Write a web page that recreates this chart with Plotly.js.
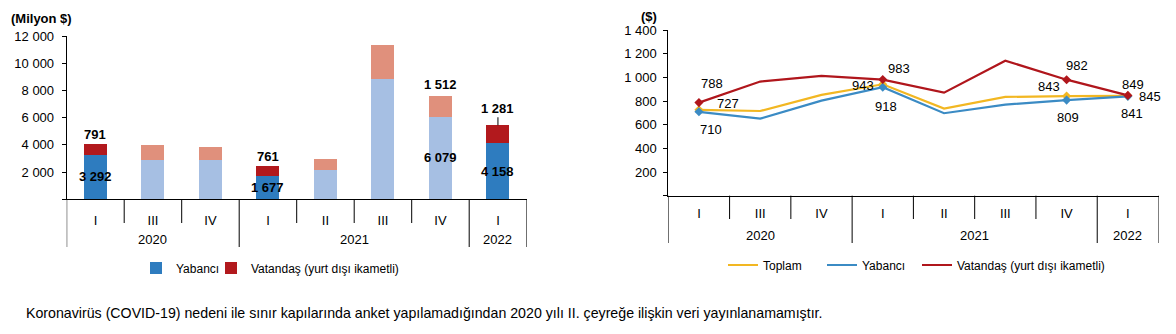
<!DOCTYPE html>
<html>
<head>
<meta charset="utf-8">
<script src="https://cdn.plot.ly/plotly-3.0.1.min.js"></script>
<style>
html,body{margin:0;padding:0;background:#fff;}
#chart{width:1176px;height:334px;}
</style>
</head>
<body>
<div id="chart"></div>
<script>
// ---------- DATA ----------
const years    = ['2020','2020','2020','2021','2021','2021','2021','2022'];
const quarters = ['I','III','IV','I','II','III','IV','I'];

// Left chart: turizm geliri (Milyon $)
const yabanciGelir  = [3292, 2890, 2890, 1677, 2157, 8857, 6079, 4158];
const vatandasGelir = [791, 1110, 960, 761, 810, 2500, 1512, 1281];
const gelirLabeled  = [true, false, false, true, false, false, true, true];
const gelirHighlight = [true, false, false, true, false, false, false, true];

// Right chart: kişi başı ortalama harcama ($)
const toplamHarcama   = [727, 717, 853, 943, 737, 836, 843, 845];
const yabanciHarcama  = [710, 652, 805, 918, 698, 771, 809, 841];
const vatandasHarcama = [788, 966, 1014, 983, 872, 1143, 982, 849];
const harcamaLabeledIdx = [0, 3, 6, 7];

const leftTicks  = [0, 2000, 4000, 6000, 8000, 10000, 12000];
const rightTicks = [0, 200, 400, 600, 800, 1000, 1200, 1400];

const seriesNames = {
  toplam: 'Toplam',
  yabanci: 'Yabancı',
  vatandas: 'Vatandaş (yurt dışı ikametli)'
};
const leftUnit = '(Milyon $)';
const rightUnit = '($)';
const footnote = 'Koronavirüs (COVID-19) nedeni ile sınır kapılarında anket yapılamadığından 2020 yılı II. çeyreğe ilişkin veri yayınlanamamıştır.';

// ---------- HELPERS ----------
const fmt = v => String(v).replace(/\B(?=(\d{3})+(?!\d))/g, ' ');
const tickText = arr => arr.map(v => v === 0 ? '' : fmt(v));
const W = 1176, H = 334;
const px = x => x / W;
const py = y => 1 - y / H;

const FONT = 'Liberation Sans, Arial, sans-serif';
const cDarkBlue = '#2e7cbf', cLightBlue = '#a6bfe3';
const cDarkRed = '#b2191d', cLightRed = '#e0907c';
const cToplam = '#f2b722', cYabanci = '#3b8bc4', cVatandas = '#b0161c';

const idx = quarters.map((_, i) => i);

// ---------- TRACES ----------
const traces = [
  {
    type: 'bar', name: seriesNames.yabanci, x: idx, y: yabanciGelir,
    xaxis: 'x', yaxis: 'y', legend: 'legend', legendwidth: 30,
    marker: {color: gelirHighlight.map(h => h ? cDarkBlue : cLightBlue), line: {width: 0}},
    hoverinfo: 'skip'
  },
  {
    type: 'bar', name: seriesNames.vatandas, x: idx, y: vatandasGelir,
    xaxis: 'x', yaxis: 'y', legend: 'legend',
    marker: {color: gelirHighlight.map(h => h ? cDarkRed : cLightRed), line: {width: 0}},
    hoverinfo: 'skip'
  }
];

const lineSeries = [
  {name: seriesNames.toplam, y: toplamHarcama, color: cToplam, lw: 54},
  {name: seriesNames.yabanci, y: yabanciHarcama, color: cYabanci, lw: 50},
  {name: seriesNames.vatandas, y: vatandasHarcama, color: cVatandas}
];
lineSeries.forEach(s => {
  const t = {
    type: 'scatter', mode: 'lines', name: s.name, x: idx, y: s.y,
    xaxis: 'x2', yaxis: 'y2', legend: 'legend2',
    line: {color: s.color, width: 2.2}, hoverinfo: 'skip'
  };
  if (s.lw) t.legendwidth = s.lw;
  traces.push(t);
});
lineSeries.forEach(s => {
  traces.push({
    type: 'scatter', mode: 'markers', showlegend: false,
    x: harcamaLabeledIdx, y: harcamaLabeledIdx.map(i => s.y[i]),
    xaxis: 'x2', yaxis: 'y2',
    marker: {symbol: 'diamond', size: 7, color: s.color}, hoverinfo: 'skip'
  });
});

// ---------- ANNOTATIONS ----------
const ann = [];
const boldFont = {family: FONT, size: 13, color: '#000'};
const normFont = {family: FONT, size: 13, color: '#000'};
yabanciGelir.forEach((v, i) => {
  if (!gelirLabeled[i]) return;
  ann.push({xref: 'x', yref: 'y', x: i, y: v / 2, text: '<b>' + fmt(v) + '</b>',
            showarrow: false, font: boldFont});
  const top = v + vatandasGelir[i];
  if (i === 7) {
    ann.push({xref: 'x', yref: 'y', x: i, y: top, text: '<b>' + fmt(vatandasGelir[i]) + '</b>',
              showarrow: true, arrowhead: 0, arrowwidth: 1, arrowcolor: '#000',
              ax: 0, ay: -17, font: boldFont, standoff: 0});
  } else {
    ann.push({xref: 'x', yref: 'y', x: i, y: top, text: '<b>' + fmt(vatandasGelir[i]) + '</b>',
              showarrow: false, yanchor: 'bottom', yshift: i === 6 ? 2 : 0, font: boldFont});
  }
});

// label offsets (px) for right chart: per series, per labeled point
const offsets = {
  toplam:   [[29, -6], [-20, 1], [-18, -10], [22, 1]],
  yabanci:  [[12, 18], [3, 19], [1, 17], [4, 17]],
  vatandas: [[13, -19], [16, -11], [10, -14], [5, -11]]
};
[['toplam', toplamHarcama], ['yabanci', yabanciHarcama], ['vatandas', vatandasHarcama]].forEach(([k, arr]) => {
  harcamaLabeledIdx.forEach((i, j) => {
    ann.push({xref: 'x2', yref: 'y2', x: i, y: arr[i], text: fmt(arr[i]), showarrow: false,
              xshift: offsets[k][j][0], yshift: -offsets[k][j][1], font: normFont});
  });
});

ann.push({xref: 'paper', yref: 'paper', x: px(9), y: py(19), xanchor: 'left', yanchor: 'middle',
          text: '<b>' + leftUnit + '</b>', showarrow: false, font: boldFont});
ann.push({xref: 'paper', yref: 'paper', x: px(649), y: py(16), xanchor: 'center', yanchor: 'middle',
          text: '<b>' + rightUnit + '</b>', showarrow: false, font: boldFont});
ann.push({xref: 'paper', yref: 'paper', x: px(24), y: py(313), xanchor: 'left', yanchor: 'middle',
          text: footnote, showarrow: false, font: {family: FONT, size: 14.2, color: '#000'}});

// ---------- YEAR GROUPS, BOUNDARY TICKS, DIVIDERS ----------
const shapes = [];
function addGroups(xref, axisY, tickEnd, divEnd, yearLabelY) {
  for (let b = 0; b <= years.length; b++) {
    const edge = b === 0 || b === years.length || years[b] !== years[b - 1];
    shapes.push({type: 'line', xref: xref, yref: 'paper', x0: b - 0.5, x1: b - 0.5,
                 y0: py(axisY), y1: py(edge ? divEnd : tickEnd),
                 line: {color: '#000', width: 1}});
  }
  const groups = [];
  years.forEach((y, i) => {
    const g = groups.length && groups[groups.length - 1].year === y ? groups[groups.length - 1] : null;
    if (g) g.last = i; else groups.push({year: y, first: i, last: i});
  });
  groups.forEach(g => {
    ann.push({xref: xref, yref: 'paper', x: (g.first + g.last) / 2, y: py(yearLabelY),
              yanchor: 'middle', text: g.year, showarrow: false, font: normFont});
  });
}
addGroups('x', 199.3, 223, 247, 239);
addGroups('x2', 195.7, 219, 243, 235);

// ---------- LAYOUT ----------
const xBase = {
  type: 'linear', range: [-0.5, quarters.length - 0.5],
  tickmode: 'array', tickvals: idx, ticktext: quarters,
  showline: true, linecolor: '#000', linewidth: 1,
  ticks: 'outside', ticklen: 9, tickcolor: 'rgba(0,0,0,0)',
  showgrid: false, zeroline: false, tickfont: {family: FONT, size: 13, color: '#000'},
  fixedrange: true
};
const yBase = {
  showline: true, linecolor: '#000', linewidth: 1, ticks: 'outside', ticklen: 4,
  tickcolor: '#000', showgrid: false, zeroline: false, tickmode: 'array',
  tickfont: {family: FONT, size: 13, color: '#000'}, fixedrange: true
};

const layout = {
  width: W, height: H,
  margin: {l: 0, r: 0, t: 0, b: 0},
  paper_bgcolor: '#fff', plot_bgcolor: '#fff',
  font: {family: FONT, size: 13, color: '#000'},
  barmode: 'stack', bargap: 0.6,
  showlegend: true,
  xaxis: Object.assign({}, xBase, {domain: [px(66.7), px(526.7)], anchor: 'y'}),
  yaxis: Object.assign({}, yBase, {domain: [py(199.3), py(36)], anchor: 'x', range: [0, 12000],
          tickvals: leftTicks, ticktext: tickText(leftTicks), ticklabelstandoff: 5}),
  xaxis2: Object.assign({}, xBase, {domain: [px(668.3), px(1158.5)], anchor: 'y2', ticklen: 6}),
  yaxis2: Object.assign({}, yBase, {domain: [py(195.7), py(30.3)], anchor: 'x2', range: [0, 1400],
          tickvals: rightTicks, ticktext: tickText(rightTicks), ticklabelstandoff: 4}),
  legend: {orientation: 'h', traceorder: 'normal', x: px(136), y: py(268), xanchor: 'left', yanchor: 'middle',
           font: {family: FONT, size: 12, color: '#000'}, bgcolor: 'rgba(0,0,0,0)'},
  legend2: {orientation: 'h', traceorder: 'normal', x: px(723), y: py(265), xanchor: 'left', yanchor: 'middle',
           font: {family: FONT, size: 12, color: '#000'}, bgcolor: 'rgba(0,0,0,0)'},
  shapes: shapes,
  annotations: ann
};

Plotly.newPlot('chart', traces, layout, {displayModeBar: false, staticPlot: true});
</script>
</body>
</html>
